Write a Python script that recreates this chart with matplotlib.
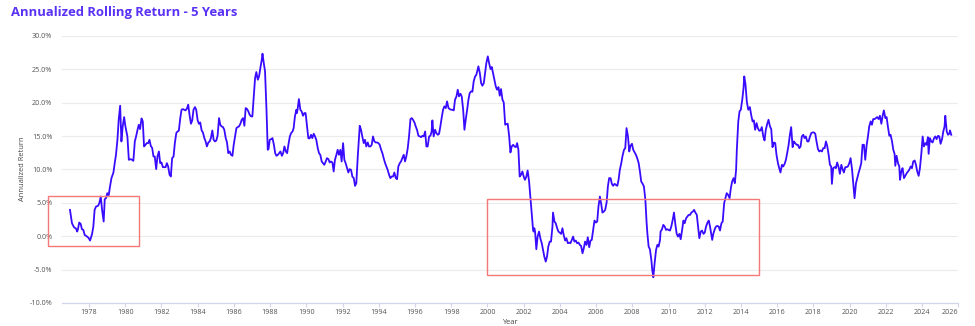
import numpy as np
import matplotlib
matplotlib.use("Agg")
import matplotlib.pyplot as plt
from matplotlib.patches import Rectangle

plt.rcParams["font.family"] = ["Open Sans", "DejaVu Sans"]

# 5-year annualized rolling return (%), by decimal year
years_a = [1976.95, 1977.06, 1977.17, 1977.28, 1977.35, 1977.39, 1977.46, 1977.54, 1977.61, 1977.69,
           1977.76, 1977.87, 1977.98, 1978.06, 1978.17, 1978.24, 1978.31, 1978.39, 1978.50, 1978.57,
           1978.65, 1978.72, 1978.81, 1978.87, 1978.94, 1979.01, 1979.09, 1979.16, 1979.24, 1979.35,
           1979.42, 1979.49, 1979.57, 1979.64, 1979.72, 1979.79, 1979.86, 1979.94, 1980.01, 1980.12,
           1980.20, 1980.31, 1980.38, 1980.45, 1980.53, 1980.60, 1980.68, 1980.75, 1980.82, 1980.90,
           1980.97, 1981.04, 1981.12, 1981.19, 1981.27, 1981.34, 1981.41, 1981.49, 1981.56, 1981.63,
           1981.71, 1981.78, 1981.86, 1981.93, 1982.00, 1982.08, 1982.15, 1982.23, 1982.30, 1982.37,
           1982.45, 1982.52, 1982.59, 1982.67, 1982.74, 1982.82, 1982.89, 1982.96, 1983.04, 1983.11,
           1983.18, 1983.26, 1983.33, 1983.41, 1983.48, 1983.55, 1983.63, 1983.70, 1983.77, 1983.85,
           1983.92, 1984.00, 1984.07, 1984.14, 1984.22, 1984.29, 1984.37, 1984.44, 1984.51, 1984.59,
           1984.66, 1984.73, 1984.81, 1984.88, 1984.96, 1985.03, 1985.10, 1985.18, 1985.25, 1985.32,
           1985.40, 1985.47, 1985.55, 1985.62, 1985.69, 1985.77, 1985.84, 1985.92, 1985.99, 1986.06,
           1986.14, 1986.21, 1986.28, 1986.36, 1986.43, 1986.51, 1986.58, 1986.65, 1986.73, 1986.80,
           1986.87, 1986.95, 1987.02, 1987.10, 1987.17, 1987.24, 1987.32, 1987.39, 1987.47, 1987.54,
           1987.58, 1987.65, 1987.72, 1987.80, 1987.87, 1987.91, 1987.98, 1988.06, 1988.13, 1988.21,
           1988.28, 1988.35, 1988.43, 1988.50, 1988.57, 1988.65, 1988.72, 1988.79, 1988.87, 1988.94,
           1989.01, 1989.09, 1989.16, 1989.24]
ret_a = [3.95, 1.95, 1.35, 1.15, 0.7, 1.05, 2.05, 1.85, 1.05, 0.95,
         0.2, 0.0, -0.25, -0.65, 0.35, 1.45, 3.95, 4.45, 4.55, 4.95,
         5.95, 4.0, 2.2, 5.55, 5.7, 6.45, 6.15, 7.45, 8.7, 9.55,
         10.95, 12.2, 14.45, 17.45, 19.55, 14.2, 16.45, 17.85, 16.45, 14.95,
         11.45, 11.55, 11.45, 11.3, 14.2, 14.95, 15.95, 16.7, 16.05, 17.65,
         17.2, 13.45, 13.7, 13.95, 13.95, 14.45, 13.55, 13.2, 11.95, 11.95,
         10.05, 11.95, 12.7, 10.95, 11.05, 10.35, 10.35, 10.35, 10.95, 10.45,
         9.2, 8.95, 11.7, 11.95, 13.95, 15.45, 15.7, 15.8, 17.7, 18.95,
         19.05, 18.95, 18.85, 19.15, 19.7, 18.2, 16.85, 17.35, 18.95, 19.35,
         18.95, 17.35, 16.85, 17.05, 15.85, 15.55, 14.7, 14.2, 13.45, 14.05,
         14.2, 14.7, 15.85, 14.45, 14.2, 14.35, 15.05, 17.7, 16.7, 16.45,
         16.35, 15.95, 14.7, 14.05, 12.45, 12.7, 12.2, 12.05, 13.7, 14.85,
         16.2, 16.35, 16.45, 16.85, 17.45, 17.7, 16.55, 19.2, 19.05, 18.7,
         18.2, 17.95, 17.95, 20.95, 23.7, 24.6, 23.45, 23.95, 25.35, 26.45,
         27.35, 25.95, 24.7, 18.95, 12.95, 13.05, 14.45, 14.55, 14.7, 13.7,
         12.45, 12.05, 12.2, 12.45, 12.7, 12.05, 12.45, 13.45, 12.7, 12.45,
         13.7, 14.95, 15.45, 15.7]

years_b = [1989.30, 1989.37, 1989.45, 1989.48, 1989.52, 1989.59, 1989.67, 1989.74, 1989.82, 1989.89,
           1989.96, 1990.04, 1990.11, 1990.18, 1990.26, 1990.33, 1990.41, 1990.48, 1990.55, 1990.63,
           1990.70, 1990.77, 1990.85, 1990.92, 1990.99, 1991.07, 1991.14, 1991.22, 1991.29, 1991.36,
           1991.44, 1991.51, 1991.58, 1991.66, 1991.73, 1991.80, 1991.88, 1991.95, 1992.03, 1992.10,
           1992.17, 1992.25, 1992.32, 1992.39, 1992.47, 1992.54, 1992.62, 1992.69, 1992.76, 1992.84,
           1992.91, 1992.95, 1993.02, 1993.09, 1993.17, 1993.24, 1993.31, 1993.39, 1993.46, 1993.54,
           1993.61, 1993.68, 1993.76, 1993.83, 1993.90, 1993.98, 1994.05, 1994.13, 1994.20, 1994.27,
           1994.35, 1994.42, 1994.49, 1994.57, 1994.64, 1994.71, 1994.79, 1994.86, 1994.94, 1995.01,
           1995.08, 1995.16, 1995.23, 1995.30, 1995.38, 1995.45, 1995.52, 1995.60, 1995.67, 1995.75,
           1995.82, 1995.89, 1995.97, 1996.04, 1996.11, 1996.19, 1996.26, 1996.34, 1996.41, 1996.48,
           1996.56, 1996.63, 1996.70, 1996.78, 1996.85, 1996.92, 1996.96, 1997.03, 1997.11, 1997.18,
           1997.26, 1997.33, 1997.40, 1997.48, 1997.55, 1997.62, 1997.70, 1997.77, 1997.85, 1997.92,
           1997.99, 1998.07, 1998.14, 1998.21, 1998.29, 1998.36, 1998.43, 1998.51, 1998.58, 1998.66,
           1998.73, 1998.80, 1998.88, 1998.95, 1999.02, 1999.10, 1999.17, 1999.24, 1999.32, 1999.39,
           1999.42, 1999.50, 1999.58, 1999.65, 1999.72, 1999.80, 1999.87, 1999.94, 2000.02, 2000.09,
           2000.17, 2000.24, 2000.31, 2000.39, 2000.46, 2000.53, 2000.61, 2000.68, 2000.75, 2000.83,
           2000.90, 2000.98, 2001.05, 2001.12, 2001.20, 2001.27, 2001.34, 2001.42, 2001.49, 2001.57,
           2001.64, 2001.71]
ret_b = [16.2, 17.95, 18.95, 18.45, 19.05, 20.55, 18.95, 18.7, 18.05, 18.45,
         18.45, 16.45, 14.7, 14.65, 15.2, 14.7, 15.35, 14.95, 14.45, 13.2,
         12.45, 12.2, 11.2, 10.95, 10.7, 11.2, 11.7, 11.55, 11.05, 11.2,
         11.05, 9.7, 11.45, 12.2, 12.95, 12.2, 12.95, 11.2, 13.95, 11.45,
         10.95, 10.2, 9.55, 10.05, 9.95, 8.95, 8.7, 7.55, 7.95, 11.95,
         14.95, 16.55, 15.95, 14.95, 13.95, 14.45, 13.45, 14.05, 13.45, 13.45,
         13.7, 14.95, 14.2, 14.05, 14.05, 13.95, 13.7, 12.95, 12.45, 11.7,
         10.95, 10.45, 9.95, 9.2, 8.7, 8.95, 8.95, 9.55, 8.7, 8.55,
         10.45, 10.95, 11.2, 11.7, 12.2, 11.2, 11.95, 13.2, 14.95, 17.55,
         17.7, 17.45, 17.05, 16.45, 15.95, 15.05, 14.95, 14.85, 15.05, 14.95,
         15.7, 13.45, 13.45, 14.95, 15.05, 15.7, 17.35, 14.95, 15.95, 15.45,
         15.2, 15.35, 16.45, 17.85, 18.95, 19.45, 19.2, 20.2, 19.2, 19.05,
         18.95, 18.95, 18.85, 20.45, 20.95, 21.95, 20.95, 21.35, 20.95, 18.95,
         15.95, 17.45, 18.95, 20.45, 21.45, 21.7, 21.65, 23.2, 23.95, 24.2,
         24.55, 25.45, 24.45, 22.95, 22.55, 22.95, 24.45, 25.95, 26.95, 25.95,
         25.05, 25.35, 24.45, 23.45, 22.45, 21.95, 22.35, 21.05, 22.05, 20.45,
         20.05, 16.7, 16.8, 16.85, 14.95, 12.55, 13.45, 13.7, 13.45, 13.35,
         13.95, 12.95]

years_c = [2001.78, 2001.85, 2001.93, 2002.00, 2002.07, 2002.15, 2002.22, 2002.30, 2002.37, 2002.44,
           2002.52, 2002.55, 2002.59, 2002.63, 2002.70, 2002.77, 2002.85, 2002.92, 2003.00, 2003.07,
           2003.14, 2003.22, 2003.29, 2003.36, 2003.44, 2003.51, 2003.59, 2003.62, 2003.70, 2003.77,
           2003.85, 2003.92, 2003.99, 2004.07, 2004.14, 2004.21, 2004.29, 2004.36, 2004.44, 2004.51,
           2004.58, 2004.66, 2004.73, 2004.80, 2004.88, 2004.95, 2005.03, 2005.10, 2005.17, 2005.25,
           2005.32, 2005.39, 2005.47, 2005.54, 2005.62, 2005.69, 2005.76, 2005.84, 2005.91, 2005.99,
           2006.06, 2006.13, 2006.21, 2006.28, 2006.35, 2006.43, 2006.50, 2006.58, 2006.65, 2006.72,
           2006.80, 2006.87, 2006.94, 2007.02, 2007.09, 2007.17, 2007.24, 2007.31, 2007.39, 2007.46,
           2007.54, 2007.61, 2007.68, 2007.76, 2007.83, 2007.90, 2007.98, 2008.05, 2008.13, 2008.20,
           2008.27, 2008.35, 2008.42, 2008.49, 2008.57, 2008.64, 2008.72, 2008.79, 2008.83, 2008.90,
           2008.97, 2009.05, 2009.10, 2009.16, 2009.23, 2009.31, 2009.38, 2009.45, 2009.53, 2009.56,
           2009.64, 2009.71, 2009.79, 2009.86, 2009.93, 2010.01, 2010.08, 2010.15, 2010.23, 2010.30,
           2010.38, 2010.45, 2010.52, 2010.60, 2010.67, 2010.75, 2010.82, 2010.89, 2010.97, 2011.04,
           2011.11, 2011.19, 2011.26, 2011.34, 2011.41, 2011.48, 2011.56, 2011.63, 2011.70, 2011.78,
           2011.85, 2011.93, 2012.00, 2012.07, 2012.15, 2012.22, 2012.29, 2012.37, 2012.41, 2012.47,
           2012.55, 2012.62, 2012.70, 2012.77, 2012.84, 2012.92, 2012.99, 2013.07, 2013.14, 2013.21,
           2013.29, 2013.37, 2013.44, 2013.51, 2013.59, 2013.66, 2013.73, 2013.77, 2013.85, 2013.92,
           2013.99, 2014.07, 2014.14, 2014.18, 2014.25, 2014.32, 2014.40]
ret_c = [8.95, 9.2, 9.7, 8.95, 8.45, 8.95, 9.85, 8.2, 5.95, 3.7,
         0.95, 0.7, 1.2, 0.7, -1.95, -0.05, 0.7, -0.3, -1.05, -2.05,
         -3.05, -3.8, -3.05, -1.55, -0.8, -0.8, 1.45, 3.55, 2.2, 1.95,
         1.2, 0.7, 0.55, 0.35, 1.2, 0.2, -0.65, -0.3, -1.05, -0.95,
         -1.05, -0.55, -0.05, -0.8, -0.65, -1.05, -0.95, -1.3, -1.45, -2.55,
         -1.8, -0.8, -1.3, -0.15, -1.65, -0.65, -0.55, 0.95, 2.35, 2.05,
         2.2, 4.45, 5.95, 4.85, 3.55, 3.7, 3.95, 5.05, 7.45, 8.7,
         8.7, 7.85, 7.55, 7.85, 7.7, 7.55, 8.45, 9.95, 10.95, 12.05,
         12.95, 13.2, 16.2, 14.95, 12.7, 13.55, 13.85, 12.95, 12.55, 12.2,
         11.7, 10.95, 9.7, 8.2, 7.85, 7.45, 5.45, 1.95, 0.45, -1.55,
         -1.95, -3.55, -5.05, -6.15, -4.05, -2.05, -1.3, -1.55, -0.55, 0.7,
         1.05, 1.7, 1.45, 0.95, 1.05, 0.95, 0.85, 1.45, 2.45, 3.55,
         1.7, 0.35, -0.05, 0.35, -0.45, 0.95, 2.35, 1.95, 2.7, 2.95,
         3.2, 3.2, 3.55, 3.7, 3.95, 3.55, 3.2, 1.45, -0.3, 0.7,
         0.85, 0.35, 0.55, 1.45, 2.05, 2.35, 1.45, 0.05, -0.55, 0.35,
         1.05, 1.45, 1.55, 1.45, 0.85, 1.95, 2.2, 4.95, 5.7, 6.45,
         6.2, 5.7, 7.2, 8.2, 8.7, 7.95, 9.95, 12.95, 17.2, 18.7,
         18.95, 20.45, 22.2, 23.95, 22.7, 20.2, 18.95]

years_d = [2014.49, 2014.56, 2014.64, 2014.71, 2014.78, 2014.86, 2014.93, 2015.01, 2015.08, 2015.15,
           2015.23, 2015.30, 2015.37, 2015.45, 2015.52, 2015.60, 2015.67, 2015.74, 2015.82, 2015.89,
           2015.96, 2016.04, 2016.11, 2016.18, 2016.26, 2016.33, 2016.41, 2016.48, 2016.55, 2016.63,
           2016.70, 2016.77, 2016.85, 2016.92, 2016.99, 2017.07, 2017.14, 2017.22, 2017.29, 2017.36,
           2017.44, 2017.51, 2017.58, 2017.66, 2017.73, 2017.80, 2017.88, 2017.95, 2018.03, 2018.10,
           2018.17, 2018.25, 2018.32, 2018.39, 2018.47, 2018.54, 2018.62, 2018.69, 2018.76, 2018.84,
           2018.91, 2018.98, 2019.02, 2019.09, 2019.17, 2019.24, 2019.31, 2019.39, 2019.46, 2019.54,
           2019.61, 2019.68, 2019.76, 2019.83, 2019.90, 2019.98, 2020.05, 2020.13, 2020.20, 2020.27,
           2020.35, 2020.42, 2020.49, 2020.57, 2020.64, 2020.71, 2020.79, 2020.86, 2020.94, 2021.01,
           2021.08, 2021.16, 2021.23, 2021.30, 2021.38, 2021.45, 2021.52, 2021.60, 2021.67, 2021.75,
           2021.82, 2021.89, 2021.97, 2022.04, 2022.11, 2022.19, 2022.26, 2022.34, 2022.41, 2022.48,
           2022.52, 2022.59, 2022.67, 2022.74, 2022.78, 2022.85, 2022.92, 2023.00, 2023.07, 2023.15,
           2023.22, 2023.29, 2023.37, 2023.44, 2023.51, 2023.59, 2023.66, 2023.73, 2023.81, 2023.88,
           2023.96, 2024.03, 2024.10, 2024.18, 2024.25, 2024.32, 2024.36, 2024.43, 2024.51, 2024.58,
           2024.66, 2024.73, 2024.80, 2024.88, 2024.95, 2025.02, 2025.10, 2025.17, 2025.24, 2025.28,
           2025.36, 2025.43, 2025.50, 2025.54, 2025.61]
ret_d = [19.35, 18.2, 17.2, 17.35, 15.95, 16.95, 16.2, 15.8, 15.85, 16.35,
         14.95, 14.35, 15.95, 16.85, 17.45, 16.45, 16.05, 13.35, 14.05, 13.95,
         12.2, 10.95, 10.2, 9.55, 10.7, 10.45, 10.85, 11.45, 12.45, 13.7,
         15.2, 16.35, 13.35, 14.2, 13.95, 13.7, 13.7, 13.2, 13.45, 14.95,
         15.2, 14.7, 14.95, 14.2, 14.2, 14.85, 15.45, 15.55, 15.55, 15.35,
         14.2, 13.05, 12.7, 12.85, 12.7, 13.2, 13.2, 14.2, 13.55, 12.2,
         10.7, 10.45, 7.85, 10.2, 10.35, 10.2, 11.05, 10.35, 9.35, 10.7,
         10.05, 9.55, 10.35, 10.35, 10.45, 10.95, 11.7, 10.05, 7.95, 5.7,
         7.95, 8.7, 9.45, 10.2, 10.95, 13.7, 13.7, 11.45, 13.7, 14.95,
         16.45, 17.2, 16.7, 17.55, 17.55, 17.7, 17.85, 17.55, 18.05, 16.85,
         18.05, 18.85, 17.7, 17.85, 16.45, 15.05, 15.2, 14.2, 12.95, 12.35,
         10.55, 12.05, 10.95, 10.45, 8.45, 9.7, 10.2, 8.7, 9.05, 9.45,
         9.7, 9.95, 10.45, 10.2, 11.2, 11.35, 10.7, 9.7, 9.05, 10.2,
         12.45, 14.95, 13.45, 13.95, 13.7, 14.85, 12.35, 14.7, 14.2, 14.05,
         14.7, 14.95, 14.55, 15.05, 14.95, 13.85, 14.55, 15.7, 16.45, 18.05,
         15.7, 15.2, 15.35, 15.85, 15.2]

# highlighted periods: (start year, end year, low %, high %)
boxes = [(1975.75, 1980.78, -1.4, 6.1),
         (2000.0, 2015.0, -5.75, 5.55)]

year_ticks = list(range(1978, 2027, 2))
pct_ticks = list(range(-10, 31, 5))

years = np.concatenate([years_a, years_b, years_c, years_d])
returns = np.concatenate([ret_a, ret_b, ret_c, ret_d])

fig = plt.figure(figsize=(9.75, 3.26), dpi=100)
ax = fig.add_axes([0.0636, 0.0706, 0.9193, 0.8190])

ax.plot(years, returns, color="#3a0cff", lw=1.3, solid_joinstyle="round")

for x0, x1, y0, y1 in boxes:
    ax.add_patch(Rectangle((x0, y0), x1 - x0, y1 - y0, fill=False,
                           ec="#f47878", lw=1.0, clip_on=False, zorder=3))

ax.set_xlim(1976.51, 2026.0)
ax.set_ylim(-10, 30)
ax.set_yticks(pct_ticks)
ax.set_yticklabels([f"{v:.1f}%" for v in pct_ticks])
ax.set_xticks(year_ticks)
ax.set_xticklabels([str(y) for y in year_ticks])
ax.get_xticklabels()[-1].set_ha("right")

ax.yaxis.grid(True, color="#ebebeb", lw=0.8)
ax.set_axisbelow(True)
for side in ["top", "right", "left"]:
    ax.spines[side].set_visible(False)
ax.spines["bottom"].set_color("#d3d6ea")
ax.spines["bottom"].set_linewidth(0.9)

ax.tick_params(axis="y", length=0, pad=7, labelsize=5.2, labelcolor="#555555")
ax.tick_params(axis="x", length=3, width=0.8, color="#d3d6ea", pad=1.6,
               labelsize=5.2, labelcolor="#555555")

fig.text(11 / 975, 1 - 12.5 / 326, "Annualized Rolling Return - 5 Years",
         color="#5a32f5", fontsize=9.4, fontweight="bold", ha="left", va="center")
fig.text(22.7 / 975, 1 - 169 / 326, "Annualized Return", rotation=90,
         fontsize=5.4, color="#444444", ha="center", va="center")
fig.text(510 / 975, 1 - 322.5 / 326, "Year", fontsize=5.4, color="#444444",
         ha="center", va="center")

fig.savefig("out.png", dpi=100)
